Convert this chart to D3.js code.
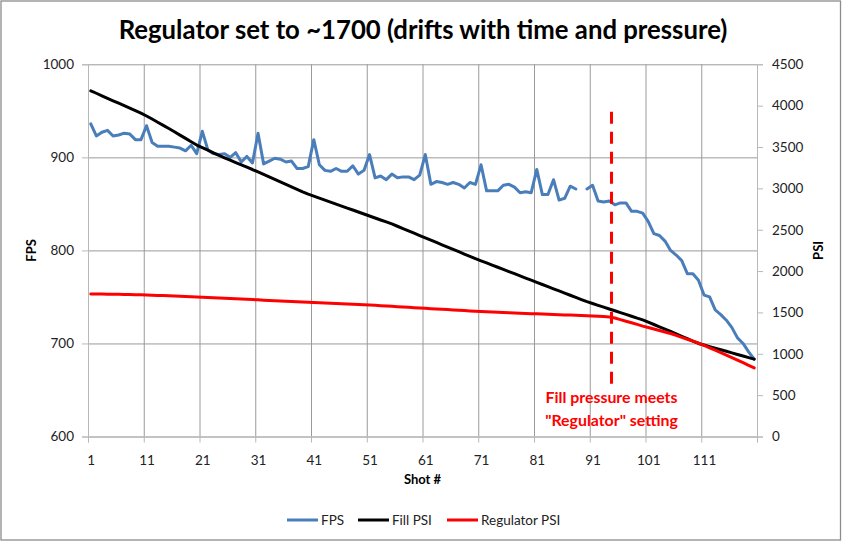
<!DOCTYPE html>
<html><head><meta charset="utf-8">
<script src="https://cdn.jsdelivr.net/npm/d3@7"></script>
<style>
html,body{margin:0;padding:0;background:#fff;}
svg{display:block;font-family:Lato,"Open Sans",sans-serif;}
</style></head>
<body><svg id="c" width="846" height="544"></svg>
<script>
const title = "Regulator set to ~1700 (drifts with time and pressure)";
const shots = d3.range(1, 121);
const xTickLabels = [1, 11, 21, 31, 41, 51, 61, 71, 81, 91, 101, 111];
const fpsTicks = [600, 700, 800, 900, 1000];
const psiTicks = [0, 500, 1000, 1500, 2000, 2500, 3000, 3500, 4000, 4500];
const seriesNames = ["FPS", "Fill PSI", "Regulator PSI"];
const fps = [936,923,927,929,923,924,926,925,919,919,
  934,916,912,912,912,911,910,907,913,904,
  928,908,904,903,904,900,905,895,901,894,
  926,893,896,899,898,895,896,888,888,890,
  919,892,886,885,888,885,885,891,882,886,
  903,878,880,876,882,878,879,879,876,881,
  903,871,874,873,871,873,871,867,873,871,
  892,864,864,864,870,871,868,862,863,862,
  887,860,860,876,854,856,869,866,null,866,
  870,853,852,853,849,851,851,842,842,840,
  831,818,816,810,800,795,789,775,775,768,
  752,750,736,731,725,717,706,700,691,683];
const fillPsi = [4180,4150,4119,4089,4059,4030,4000,3970,3940,3910,
  3875,3838,3800,3762,3724,3684,3644,3604,3564,3524,
  3492,3461,3430,3400,3370,3341,3312,3284,3256,3228,
  3198,3168,3138,3108,3078,3048,3018,2988,2958,2930,
  2906,2882,2858,2834,2810,2786,2762,2738,2714,2690,
  2666,2642,2618,2594,2570,2542,2514,2486,2458,2430,
  2402,2374,2346,2318,2290,2262,2234,2206,2178,2150,
  2124,2098,2072,2046,2020,1994,1968,1942,1916,1890,
  1864,1838,1812,1786,1760,1734,1708,1682,1656,1630,
  1608,1586,1564,1542,1520,1498,1476,1454,1432,1410,
  1382,1354,1326,1298,1270,1241,1212,1183,1154,1125,
  1106,1087,1068,1049,1030,1011,992,973,954,935];
const regPsi = [1724,1723,1722,1721,1720,1719,1718,1716,1715,1713,
  1711,1709,1706,1704,1701,1698,1696,1693,1690,1687,
  1684,1681,1678,1675,1671,1668,1665,1662,1658,1655,
  1652,1648,1645,1642,1638,1635,1632,1629,1625,1622,
  1619,1616,1614,1611,1608,1605,1602,1599,1596,1593,
  1590,1586,1582,1578,1574,1570,1566,1562,1558,1554,
  1550,1546,1542,1538,1534,1530,1526,1522,1518,1514,
  1511,1508,1506,1503,1500,1497,1494,1491,1488,1485,
  1483,1480,1478,1475,1473,1470,1468,1465,1463,1460,
  1457,1454,1450,1446,1432,1413,1394,1375,1355,1335,
  1317,1299,1281,1263,1245,1222,1199,1176,1153,1130,
  1101,1072,1043,1014,985,954,923,892,861,830];
const markerShot = [94.4];
const markerFps = [949, 650];
const annotation = ["Fill pressure meets", "\"Regulator\" setting"];

const colors = {fps:"#4A7EBB", fill:"#000000", reg:"#FF0000"};
const svg = d3.select("#c");
const L = 88, R = 757, T = 64.3, B = 436.5;

svg.append("rect").attr("x",1).attr("y",1).attr("width",839.5).attr("height",539)
  .attr("fill","#fff").attr("stroke","#8c8c8c").attr("stroke-width",1.3);

const x = d3.scaleLinear().domain([0.5, 120.5]).range([L, R]);
const yL = d3.scaleLinear().domain([600, 1000]).range([B, T]);
const yR = d3.scaleLinear().domain([0, 4500]).range([B, T]);

// gridlines
const gy = svg.append("g").attr("transform",`translate(${L},0)`)
  .call(d3.axisLeft(yL).tickValues(fpsTicks).tickSize(-(R-L)).tickFormat(""));
gy.select(".domain").remove();
gy.selectAll("line").attr("stroke","#9a9a9a").attr("stroke-width",1);
const bounds = d3.range(0, 13).map(k => 0.5 + 10*k);
const gx = svg.append("g").attr("transform",`translate(0,${B})`)
  .call(d3.axisBottom(x).tickValues(bounds.slice(1, 12)).tickSize(-(B-T)).tickFormat(""));
gx.select(".domain").remove();
gx.selectAll("line").attr("stroke","#9a9a9a").attr("stroke-width",1);

const labelFont = 13.5, labelColor = "#222";
// left axis
const al = svg.append("g").attr("transform",`translate(${L},0)`)
  .call(d3.axisLeft(yL).tickValues(fpsTicks).tickSize(6).tickPadding(8).tickFormat(d3.format("d")));
al.select(".domain").attr("stroke","#b8b8b8");
al.selectAll("line").attr("stroke","#b8b8b8");
al.selectAll("text").attr("font-size",labelFont).attr("fill",labelColor).attr("font-family","Lato");
// right axis
const ar = svg.append("g").attr("transform",`translate(${R},0)`)
  .call(d3.axisRight(yR).tickValues(psiTicks).tickSize(6).tickPadding(9).tickFormat(d3.format("d")));
ar.select(".domain").attr("stroke","#b8b8b8");
ar.selectAll("line").attr("stroke","#b8b8b8");
ar.selectAll("text").attr("font-size",labelFont).attr("fill",labelColor).attr("font-family","Lato");
// bottom axis ticks
const ab = svg.append("g").attr("transform",`translate(0,${B})`)
  .call(d3.axisBottom(x).tickValues(bounds).tickSize(6).tickFormat(""));
ab.select(".domain").attr("stroke","#b8b8b8");
ab.selectAll("line").attr("stroke","#b8b8b8");
const abl = svg.append("g").attr("transform",`translate(0,${B})`)
  .call(d3.axisBottom(x).tickValues(xTickLabels).tickSize(0).tickPadding(19).tickFormat(d3.format("d")));
abl.select(".domain").remove();
abl.selectAll("text").attr("font-size",labelFont).attr("fill",labelColor).attr("font-family","Lato");

// axis titles
svg.append("text").attr("transform",`translate(36,${(T+B)/2}) rotate(-90)`).attr("text-anchor","middle")
  .attr("font-weight","bold").attr("font-size",13).attr("fill","#000").text("FPS");
svg.append("text").attr("transform",`translate(823,${(T+B)/2}) rotate(-90)`).attr("text-anchor","middle")
  .attr("font-weight","bold").attr("font-size",13).attr("fill","#000").text("PSI");
svg.append("text").attr("x",(L+R)/2).attr("y",484).attr("text-anchor","middle")
  .attr("font-weight","bold").attr("font-size",13).attr("fill","#000").text("Shot #");

// title
const tt = svg.append("text").attr("x",423).attr("y",39).attr("text-anchor","middle")
  .attr("font-weight","bold").attr("font-size",25).attr("fill","#000").text(title);
const tw = tt.node().getComputedTextLength();
tt.attr("font-size", 25 * 609 / tw);

// series
const rows = shots.map((s,i) => ({s, fps:fps[i], fill:fillPsi[i], reg:regPsi[i]}));
const lineFps = d3.line().defined(d => d.fps != null).x(d => x(d.s)).y(d => yL(d.fps));
const lineFill = d3.line().x(d => x(d.s)).y(d => yR(d.fill));
const lineReg = d3.line().x(d => x(d.s)).y(d => yR(d.reg));
const gl = svg.append("g").attr("fill","none").attr("stroke-width",3).attr("stroke-linejoin","round").attr("stroke-linecap","round");
gl.append("path").attr("d",lineFps(rows)).attr("stroke",colors.fps);
gl.append("path").attr("d",lineFill(rows)).attr("stroke",colors.fill);
gl.append("path").attr("d",lineReg(rows)).attr("stroke",colors.reg);

// marker
svg.append("line").attr("x1",x(markerShot[0])).attr("x2",x(markerShot[0]))
  .attr("y1",yL(markerFps[0])).attr("y2",yL(markerFps[1]))
  .attr("stroke","#FF0000").attr("stroke-width",3).attr("stroke-dasharray","12,8");
const annSize = 16;
annotation.forEach((t,i) => {
  const a = svg.append("text").attr("x",x(markerShot[0])).attr("y",403 + i*22.5).attr("text-anchor","middle")
    .attr("font-weight","bold").attr("font-size",annSize).attr("fill","#FF0000").text(t);
  if (i === 0) {
    const w = a.node().getComputedTextLength();
    a.attr("font-size", annSize * 132 / w);
  }
});
// match second line to first line size
const annTexts = svg.selectAll("text").filter(function(){ return annotation.includes(this.textContent); });
const fs0 = annTexts.nodes()[0].getAttribute("font-size");
annTexts.attr("font-size", fs0);

// legend
const leg = [{n:seriesNames[0],c:colors.fps,x:287},{n:seriesNames[1],c:colors.fill,x:358},{n:seriesNames[2],c:colors.reg,x:447}];
leg.forEach(d => {
  svg.append("line").attr("x1",d.x).attr("x2",d.x+31).attr("y1",520).attr("y2",520)
    .attr("stroke",d.c).attr("stroke-width",3);
  svg.append("text").attr("x",d.x+34).attr("y",525).attr("font-size",13.5).attr("fill",labelColor).text(d.n);
});
</script></body></html>
